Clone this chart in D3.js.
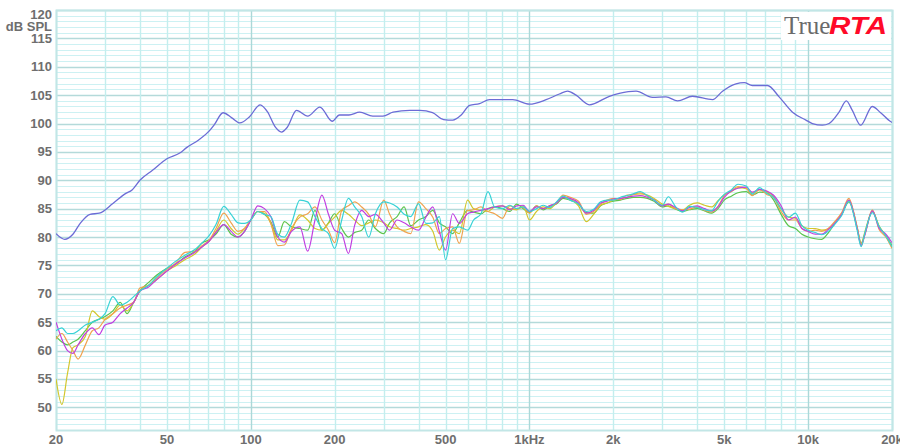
<!DOCTYPE html>
<html>
<head>
<meta charset="utf-8">
<script src="https://cdn.jsdelivr.net/npm/d3@7"></script>
<style>
  body { margin: 0; background: #fff; }
  svg { display: block; }
  .lbl { font-family: "Liberation Sans", Arial, sans-serif; font-weight: bold; font-size: 13px; fill: #6e6e6e; }
</style>
</head>
<body>
<svg width="900" height="447"></svg>
<script>
// tick labels
var yTicks = [120, 115, 110, 105, 100, 95, 90, 85, 80, 75, 70, 65, 60, 55, 50];
var xTicks = [20, 50, 100, 200, 500, 1000, 2000, 5000, 10000, 20000];
var xTickLabels = ["20", "50", "100", "200", "500", "1kHz", "2k", "5k", "10k", "20k"];

// blue curve (summed response)
var blueFreqs = [20, 21.5, 23, 24.5, 26.5, 28.6, 32, 35.6, 37.5, 40, 44.5, 50, 55.6, 59, 65, 71, 74, 79.5, 85.5, 91.3,
  99, 108, 115, 122, 129, 135, 146, 160, 177, 196, 208, 225, 246, 274, 298, 324, 372, 404, 449, 492,
  531, 569, 610, 662, 719, 871, 1000, 1148, 1281, 1371, 1470, 1640, 1935, 2100, 2413, 2765, 3090, 3400, 3845, 4540,
  4930, 5510, 5900, 6310, 7150, 7870, 8790, 9820, 10360, 11250, 11890, 12910, 13710, 14410, 15450, 16990, 18210, 19830, 20000];
var blueDb = [80.6, 79.6, 80.5, 82.5, 84, 84.2, 85.9, 87.7, 88.3, 90, 91.8, 93.8, 94.8, 95.8, 97.1, 98.7, 99.8, 101.9, 101, 100.1,
  101.2, 103.3, 102, 99.5, 98.5, 99.3, 102.3, 101.3, 102.9, 100.4, 101.5, 101.5, 102, 101.3, 101.3, 102, 102.3, 102.3, 101.9, 100.7,
  100.6, 101.5, 103.2, 103.5, 104.2, 104.2, 103.4, 104.2, 105.2, 105.7, 105, 103.3, 104.8, 105.3, 105.7, 104.6, 104.7, 104, 104.8, 104.2,
  105.7, 107, 107.2, 106.7, 106.7, 104.7, 102, 100.6, 100, 99.7, 100, 102, 104, 102.3, 99.7, 103, 101.9, 100.3, 100.2];

// shared frequencies for the five single measurements
var freqs = [20, 21, 22, 23, 24, 25.5, 27, 28.5, 30, 32,
  34, 36, 38, 40, 43, 46, 50, 54, 58, 63,
  67, 71, 75, 80, 85, 90, 95, 100, 106, 112,
  118, 125, 132, 140, 150, 160, 170, 180, 190, 200,
  212, 224, 236, 250, 265, 280, 300, 315, 335, 355,
  375, 400, 425, 450, 475, 500, 530, 560, 600, 630,
  670, 710, 750, 800, 850, 900, 950, 1000, 1060, 1120,
  1180, 1250, 1320, 1400, 1500, 1600, 1700, 1800, 1900, 2000,
  2120, 2240, 2360, 2500, 2650, 2800, 3000, 3150, 3350, 3550,
  3750, 4000, 4250, 4500, 4750, 5000, 5300, 5600, 6000, 6300,
  6700, 7100, 7500, 8000, 8500, 9000, 9500, 10000, 10600, 11200,
  11800, 12500, 13200, 14000, 15000, 15500, 16000, 17000, 18000, 19000,
  20000];

var purpleDb = [65, 62, 60, 59.5, 61, 63, 64, 62.8, 64.5, 65,
  66.5, 67.5, 68.5, 70.5, 71.2, 72.5, 74, 75.3, 76.3, 77.3,
  78.3, 79.3, 80.8, 82.2, 81, 80, 81, 83, 85.5, 85,
  83.6, 80, 79.1, 81, 81.8, 77.5, 83, 87.4, 84, 81.2,
  80.6, 77.1, 82.1, 84.7, 83.6, 84, 82.5, 81.2, 83, 82.5,
  81.8, 81.2, 83.5, 85.3, 81, 77.7, 84.1, 82.4, 84.1, 84.4,
  84.7, 85, 85.3, 85.5, 84.8, 85.5, 85.6, 84.5, 85.3, 85,
  85.5, 86, 87, 86.8, 86, 84.2, 84.7, 86, 86.3, 86.7,
  86.8, 87, 87.2, 87.3, 87, 86.5, 85.5, 85.8, 85.2, 84.6,
  85.2, 85.5, 85, 84.6, 85.3, 87, 88.1, 88.6, 88.8, 87.9,
  88.4, 88.1, 87.4, 85.5, 83, 83.5, 81.5, 81, 80.5, 80.5,
  81.3, 82.5, 84, 86.5, 81.5, 78.5, 80.5, 84.6, 81.5, 80.5,
  79];

var cyanDb = [63.5, 64, 63, 63, 63.5, 64.5, 65, 65.5, 66.5, 69.5,
  68, 68.5, 69.5, 70.5, 71.5, 73, 74.5, 75.8, 76.8, 77.8,
  79, 80.3, 82.2, 85.4, 84, 82.5, 82.4, 83, 84.5, 84,
  83.6, 80.5, 80, 82.4, 86.5, 86.2, 83.6, 81.5, 80.6, 78,
  83, 86.8, 85.3, 83.6, 80, 84.1, 86.2, 86, 85.3, 84,
  83.6, 85.9, 82.4, 82.5, 83.6, 76, 81.5, 81.8, 81.2, 83,
  84.1, 88, 85.3, 85, 85.6, 85, 85.3, 84.5, 85, 85.6,
  85.2, 86.2, 87.2, 86.5, 85.8, 84.5, 84.9, 86.2, 86.5, 86.5,
  87, 87.3, 87.6, 88, 87.3, 86.5, 85.6, 87.1, 85.3, 84.4,
  85.4, 85.2, 84.8, 84.6, 86.3, 87.5, 88.3, 89.3, 89, 87.6,
  88.7, 87.7, 87, 85, 83.5, 84.2, 82, 81.2, 80.8, 80.4,
  81, 82.3, 83.8, 86.3, 81.2, 78.3, 80.8, 84.3, 81.8, 80.2,
  78.3];

var orangeDb = [62, 63, 61.5, 60, 58.5, 61, 63.5, 64, 65.5, 66.5,
  67.5, 68, 68.5, 71, 71.5, 72.8, 74.3, 75.5, 77.3, 77.5,
  78.5, 79.5, 81.5, 84.2, 82.5, 81, 81.5, 83, 84.5, 84.5,
  82.4, 78.5, 78.6, 81.5, 83.5, 84.1, 85.3, 83, 81.2, 79,
  84.7, 85.5, 86.2, 85.3, 84, 81.8, 86.5, 84, 81.8, 81,
  80.6, 86.2, 85, 83.5, 80.6, 81.5, 81.8, 78.9, 84.7, 84.8,
  85.3, 84.5, 84.1, 83.3, 85.5, 85, 85.2, 84.2, 85.5, 85,
  85.5, 86, 87.4, 87, 86.3, 84, 84.5, 85.8, 86.5, 86.8,
  86.6, 87.4, 87.5, 87.8, 87.2, 86.6, 85.6, 85.8, 85, 84.8,
  84.9, 85.3, 84.7, 84.4, 85.4, 87.3, 88.2, 88.9, 88.6, 87.3,
  88.4, 87.5, 87, 84.5, 83, 83, 81.5, 81, 81.2, 81,
  81.5, 82.8, 84.3, 86.8, 81.5, 78.5, 80.5, 84.8, 81.3, 80,
  78];

var greenDb = [62.5, 61.5, 61, 61.5, 62, 63.5, 65, 65.5, 66, 67,
  68.5, 66.5, 68.5, 70.5, 72, 73.3, 74.5, 75.3, 76.5, 77.5,
  79, 79.5, 80.5, 82.2, 80.5, 80, 81, 83, 84.5, 84,
  82.7, 80, 82.7, 81.8, 81.5, 81.2, 84.7, 81.2, 82.5, 84.1,
  81.5, 80, 80.8, 81.2, 83, 81.5, 80.6, 82.5, 83.6, 85.3,
  82, 83, 83.6, 84.7, 82.5, 81.8, 80.6, 82.5, 84.7, 84.4,
  84.1, 85, 85.3, 85, 84.5, 85.8, 85, 84.3, 85.5, 84.8,
  85.4, 85.8, 86.8, 86.5, 85.8, 84.3, 84.2, 85.5, 86, 86.3,
  86.5, 86.8, 87, 87, 86.8, 86.3, 85.3, 85.5, 84.9, 84.5,
  84.8, 85, 84.6, 84.2, 85, 86.5, 87.2, 87.8, 88, 87.4,
  87.9, 87.8, 86.6, 84, 82, 81.5, 80.5, 80, 79.7, 79.6,
  80.7, 82.5, 84, 86.2, 81.6, 78.9, 80.6, 84.6, 81.8, 80.3,
  78.5];

var yellowDb = [55, 50.5, 56, 60.5, 61, 62.5, 67, 66, 65.5, 66.5,
  68, 67, 68.5, 70.5, 71.5, 72.5, 74, 75, 76, 77,
  78.3, 79.3, 81, 83, 81.5, 80.5, 81.5, 83, 84.5, 84.2,
  82.4, 79.5, 79.5, 81.2, 83.9, 83, 81.5, 81.2, 82.4, 83.5,
  84.7, 84, 83, 82, 82.5, 83, 82.5, 81.8, 81.5, 81.2,
  81.5, 81.8, 82.2, 81, 77.7, 80, 81.2, 80.6, 86.5, 85,
  84.7, 84.5, 85.3, 85.5, 85, 84.8, 85.5, 83, 84.5, 85.3,
  85, 86, 87, 86.7, 85.5, 82.7, 84, 85.6, 86, 86.5,
  86.8, 87, 87.5, 87.6, 87.4, 86.8, 85.8, 85.4, 85, 84.8,
  85.6, 86, 85.6, 85.3, 86.4, 87.4, 88, 88.7, 88.5, 87.8,
  88.3, 88, 87.2, 85, 83.5, 83.3, 82, 81.5, 81.5, 81.2,
  81.4, 82.6, 84, 86.5, 81.8, 78.8, 81, 84.5, 81.9, 80.2,
  78.2];

var draw = function() {

	var left = 56, right = 892, top = 10, bottom = 430;

	var svg = d3.select("svg");

	var x = d3.scaleLog().domain([20, 20000]).range([left, right]);
	var y = d3.scaleLinear().domain([46, 120]).range([bottom, top]);

	// vertical grid: 20..90, 100..900, 1k..9k, 10k, 20k
	var vLines = [];
	[10, 100, 1000, 10000].forEach(function(dec) {
		for (var k = 1; k <= 9; k++) {
			var f = dec * k;
			if (f >= 20 && f <= 20000) vLines.push(f);
		}
	});
	vLines.push(20000);

	// horizontal grid every 1 dB
	var hLines = d3.range(46, 121);

	var grid = svg.append("g");

	grid.selectAll("line.h")
		.data(hLines)
		.enter()
		.append("line")
		.attr("x1", left)
		.attr("x2", right)
		.attr("y1", function(d) { return Math.round(y(d)) + 0.5; })
		.attr("y2", function(d) { return Math.round(y(d)) + 0.5; })
		.attr("stroke", function(d) { return d % 5 === 0 ? "#b4dada" : "#cdf1f3"; })
		.attr("stroke-width", function(d) { return d % 5 === 0 ? 1.5 : 1; });

	grid.selectAll("line.v")
		.data(vLines)
		.enter()
		.append("line")
		.attr("x1", function(d) { return Math.round(x(d)) + 0.5; })
		.attr("x2", function(d) { return Math.round(x(d)) + 0.5; })
		.attr("y1", top)
		.attr("y2", bottom)
		.attr("stroke", function(d) {
			return (d === 100 || d === 1000 || d === 10000) ? "#acd8d8" : "#c4eeee";
		})
		.attr("stroke-width", 1.4);

	// plot frame
	svg.append("rect")
		.attr("x", left + 0.5)
		.attr("y", top + 0.5)
		.attr("width", right - left)
		.attr("height", bottom - top)
		.attr("fill", "none")
		.attr("stroke", "#c2e6e6")
		.attr("stroke-width", 2);

	// y labels
	svg.append("g")
		.selectAll("text")
		.data(yTicks)
		.enter()
		.append("text")
		.attr("class", "lbl")
		.attr("x", 52)
		.attr("y", function(d) { return d === 120 ? 14 : y(d); })
		.attr("dy", "0.35em")
		.attr("text-anchor", "end")
		.text(function(d) { return d; });

	svg.append("text")
		.attr("class", "lbl")
		.attr("x", 52)
		.attr("y", 26.5)
		.attr("dy", "0.35em")
		.attr("text-anchor", "end")
		.text("dB SPL");

	// x labels
	svg.append("g")
		.selectAll("text")
		.data(xTicks)
		.enter()
		.append("text")
		.attr("class", "lbl")
		.attr("x", function(d) { return x(d); })
		.attr("y", 439)
		.attr("dy", "0.35em")
		.attr("text-anchor", "middle")
		.text(function(d, i) { return xTickLabels[i]; });

	svg.append("clipPath")
		.attr("id", "plot")
		.append("rect")
		.attr("x", left)
		.attr("y", top)
		.attr("width", right - left)
		.attr("height", bottom - top);

	var line = d3.line()
		.x(function(d) { return x(d[0]); })
		.y(function(d) { return y(d[1]); })
		.curve(d3.curveMonotoneX);

	var series = [
		{ db: greenDb, color: "#5cc44c" },
		{ db: yellowDb, color: "#d2c62c" },
		{ db: orangeDb, color: "#f0a24e" },
		{ db: purpleDb, color: "#c03fe0" },
		{ db: cyanDb, color: "#38d2d6" }
	];

	var plot = svg.append("g").attr("clip-path", "url(#plot)");

	series.forEach(function(s) {
		plot.append("path")
			.datum(freqs.map(function(f, i) { return [f, s.db[i]]; }))
			.attr("d", line)
			.attr("fill", "none")
			.attr("stroke", s.color)
			.attr("stroke-width", 1.2);
	});

	plot.append("path")
		.datum(blueFreqs.map(function(f, i) { return [f, blueDb[i]]; }))
		.attr("d", line)
		.attr("fill", "none")
		.attr("stroke", "#6c6cd6")
		.attr("stroke-width", 1.3);

	// TrueRTA logo
	svg.append("rect")
		.attr("x", 781)
		.attr("y", 12)
		.attr("width", 110)
		.attr("height", 28)
		.attr("fill", "#fff");

	svg.append("text")
		.attr("x", 784)
		.attr("y", 34)
		.attr("font-family", "'Liberation Serif', 'Times New Roman', serif")
		.attr("font-size", 25)
		.attr("fill", "#6a6a6a")
		.text("True");

	svg.append("text")
		.attr("x", 829)
		.attr("y", 34)
		.attr("font-family", "'Liberation Sans', Arial, sans-serif")
		.attr("font-size", 23)
		.attr("font-weight", "bold")
		.attr("font-style", "italic")
		.attr("fill", "#ff0a28")
		.attr("textLength", 58)
		.attr("lengthAdjust", "spacingAndGlyphs")
		.text("RTA");
};

draw();
</script>
</body>
</html>
